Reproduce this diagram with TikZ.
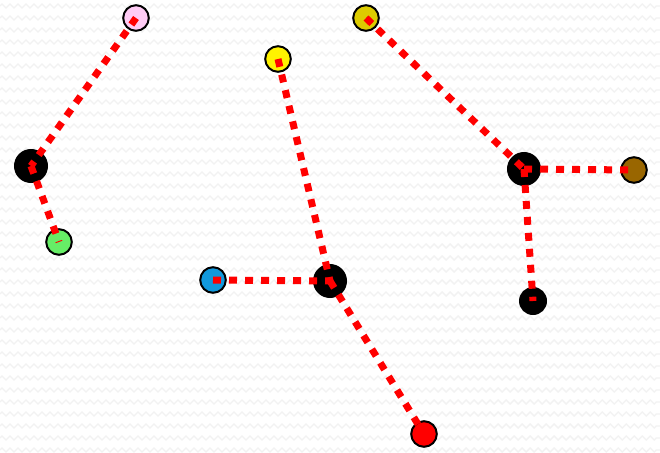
\documentclass[tikz,border=0pt]{standalone}
\usepackage{tikz}
\usetikzlibrary{decorations.pathmorphing}

\definecolor{pinkfill}{HTML}{FFCCF5}
\definecolor{greenfill}{HTML}{66EE66}
\definecolor{bluefill}{HTML}{1199DD}
\definecolor{olivefill}{HTML}{DDCC00}
\definecolor{brownfill}{HTML}{996600}

\begin{document}
\begin{tikzpicture}[x=0.025cm,y=-0.025cm,
    leaf/.style={circle,draw=black,line width=1.4pt,inner sep=0pt,minimum size=0.64cm},
    hub/.style={circle,fill=black,inner sep=0pt,minimum size=0.85cm},
    link/.style={red,line width=0.175cm,dash pattern=on 0.2cm off 0.2cm}]
  \useasboundingbox (0,0) rectangle (660,453);
  % Background
  \fill[white] (0,0) rectangle (660,453);
  \foreach \y in {6,18,...,450} {
    \draw[black!5,line width=0.9pt,decorate,decoration={zigzag,segment length=0.2cm,amplitude=0.05cm}] (0,\y) -- (660,\y);
  }
  % Left group
  \node[leaf,fill=pinkfill] (pink) at (136,18) {};
  \node[hub] (hubA) at (31,166) {};
  \node[leaf,fill=greenfill] (green) at (59,242) {};
  % Middle group
  \node[leaf,fill=yellow] (yellow) at (278,59) {};
  \node[leaf,fill=bluefill] (blue) at (213,280) {};
  \node[hub] (hubB) at (330,281) {};
  \node[leaf,fill=red] (redleaf) at (424,434) {};
  % Right group
  \node[leaf,fill=olivefill] (olive) at (366,18) {};
  \node[hub] (hubC) at (524,169) {};
  \node[leaf,fill=brownfill] (brown) at (634,170) {};
  \node[hub,minimum size=0.7cm] (hubD) at (533,301) {};
  % Links
  \draw[link] (pink.center) -- (hubA.center);
  \draw[link] (hubA.center) -- (green.center);
  \draw[link] (yellow.center) -- (hubB.center);
  \draw[link] (blue.center) -- (hubB.center);
  \draw[link] (hubB.center) -- (redleaf.center);
  \draw[link] (olive.center) -- (hubC.center);
  \draw[link] (hubC.center) -- (brown.center);
  \draw[link] (hubC.center) -- (hubD.center);
\end{tikzpicture}
\end{document}
